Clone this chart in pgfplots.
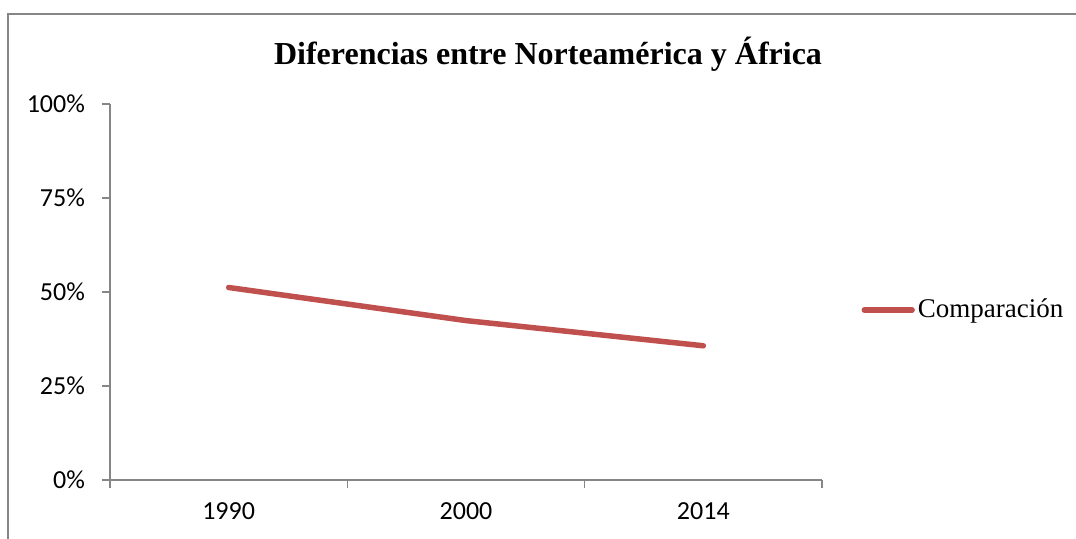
\documentclass[border=0pt]{standalone}
\usepackage{pgfplots}
\pgfplotsset{compat=1.18}
\usepackage{fontspec}
\setmainfont{Liberation Serif}
\newfontfamily\calibri{Carlito}
\definecolor{exred}{HTML}{C0504D}
\definecolor{axgray}{HTML}{868686}

\begin{document}
\begin{tikzpicture}
% page: 1076x538 px at 0.5pt per px
\useasboundingbox (0,0) rectangle (538pt,269pt);
\clip (0,0) rectangle (538pt,269pt);
\draw[axgray, line width=1pt] (4pt,262pt) rectangle (600pt,-20pt);
\begin{axis}[
    at={(55pt,29pt)}, anchor=south west,
    scale only axis,
    width=356pt, height=188pt,
    xmin=0, xmax=3,
    ymin=0, ymax=100,
    axis lines=left,
    axis line style={-, axgray, line width=0.75pt},
    xtick={0.5,1.5,2.5},
    xticklabels={1990,2000,2014},
    major x tick style={draw=none},
    minor xtick={0,1,2,3},
    ytick={0,25,50,75,100},
    yticklabel={\pgfmathprintnumber{\tick}\%},
    tick align=outside,
    tick style={axgray, line width=0.75pt},
    major tick length=4pt,
    minor tick length=4pt,
    ticklabel style={font=\calibri\fontsize{13}{15}\selectfont},
    /pgf/number format/assume math mode=true,
    xticklabel style={yshift=-4pt},
    yticklabel style={xshift=-5pt},
    legend style={at={(1.055,0.452)}, anchor=west, draw=none, fill=none,
        inner sep=0pt, font=\fontsize{13.5}{15}\selectfont,
        nodes={inner xsep=1.5pt},
        /tikz/every even column/.append style={column sep=0pt}},
    legend cell align=left,
    legend image code/.code={\draw[#1, line cap=round] (1.3pt,0pt) -- (25.2pt,0pt);},
    clip=false,
]
\addplot[exred, line width=2.75pt, line cap=round] coordinates {
    (0.5, 51.2)
    (1.5, 42.4)
    (2.5, 35.7)
};
\legend{Comparación}
\end{axis}
\node[anchor=base, font=\bfseries\fontsize{16}{19}\selectfont] at (274pt,237pt)
    {Diferencias entre Norteamérica y África};
\end{tikzpicture}
\end{document}
